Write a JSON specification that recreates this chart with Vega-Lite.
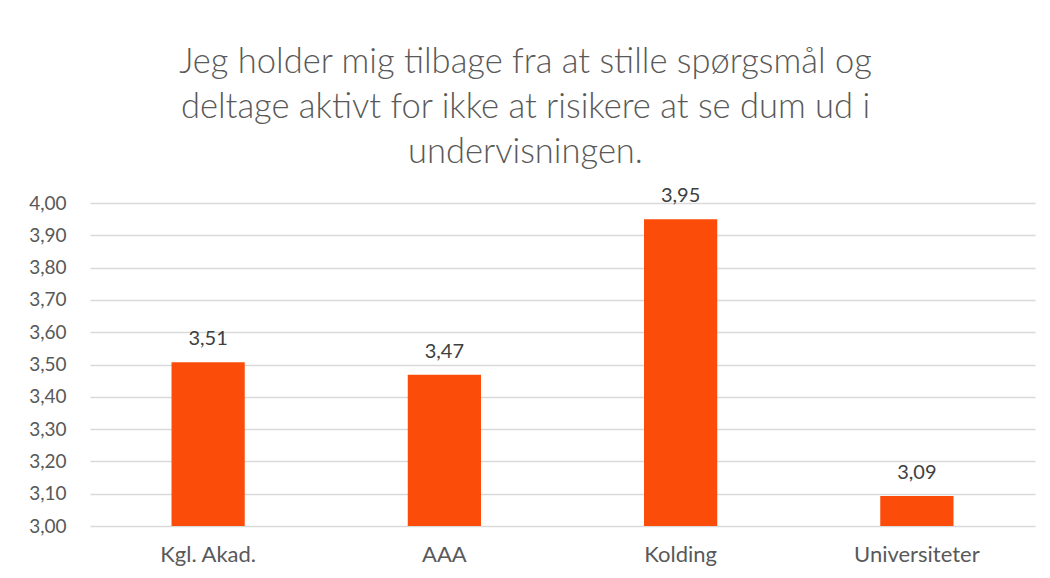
{
  "$schema": "https://vega.github.io/schema/vega-lite/v6.json",
  "autosize": "none",
  "width": 945,
  "height": 323,
  "padding": {"left": 90, "top": 203, "right": 15, "bottom": 52},
  "background": "white",
  "config": {
    "locale": {"number": {"decimal": ",", "thousands": ".", "grouping": [3], "currency": ["", " kr"]}},
    "view": {"stroke": null},
    "font": "Lato"
  },
  "title": {
    "text": ["Jeg holder mig tilbage fra at stille spørgsmål og", "deltage aktivt for ikke at risikere at se dum ud i", "undervisningen."],
    "fontSize": 34.5,
    "font": "Lato",
    "fontWeight": 300,
    "color": "#595959",
    "lineHeight": 45,
    "anchor": "middle",
    "dx": -37,
    "offset": 16
  },
  "data": {
    "values": [
      {"sted": "Kgl. Akad.", "v": 3.507},
      {"sted": "AAA", "v": 3.468},
      {"sted": "Kolding", "v": 3.95},
      {"sted": "Universiteter", "v": 3.093}
    ]
  },
  "encoding": {
    "x": {
      "field": "sted", "type": "nominal", "sort": null,
      "scale": {"paddingInner": 0, "paddingOuter": 0},
      "axis": {"title": null, "labelAngle": 0, "labelFontSize": 22, "labelColor": "#595959", "ticks": false, "domain": false, "labelPadding": 18, "labelFont": "Lato"}
    },
    "y": {
      "field": "v", "type": "quantitative",
      "scale": {"domain": [3, 4], "zero": false, "nice": false},
      "axis": {"title": null, "values": [3, 3.1, 3.2, 3.3, 3.4, 3.5, 3.6, 3.7, 3.8, 3.9, 4], "format": ".2f", "labelFontSize": 19, "labelColor": "#595959", "ticks": false, "domain": false, "labelPadding": 24, "gridColor": "#d9d9d9", "gridWidth": 1.3, "labelFont": "Lato"}
    }
  },
  "layer": [
    {"mark": {"type": "bar", "color": "#FC4C0A", "width": {"band": 0.31}},
     "encoding": {"y2": {"datum": 3}}},
    {"mark": {"type": "text", "baseline": "bottom", "dy": -13, "fontSize": 20, "color": "#404040", "font": "Lato"},
     "encoding": {"text": {"field": "v", "type": "quantitative", "format": ".2f"}}}
  ]
}
